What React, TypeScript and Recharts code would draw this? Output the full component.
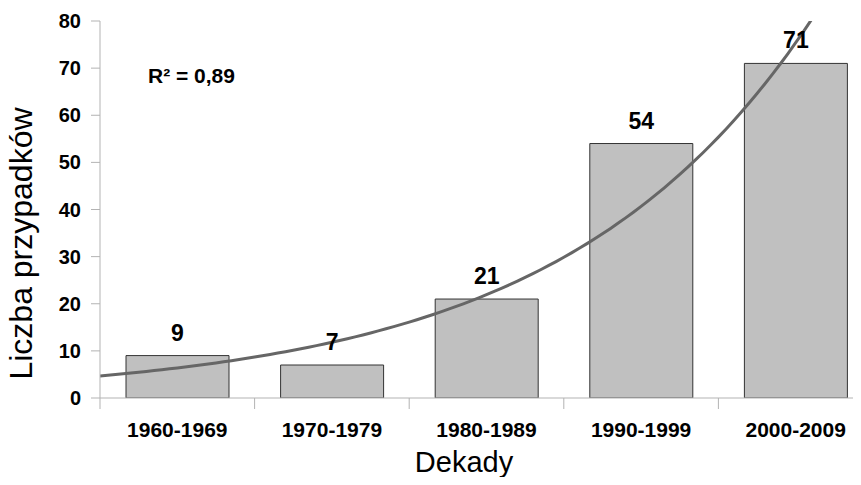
import { ComposedChart, Bar, Line, XAxis, YAxis, LabelList, Label } from "recharts"

const decades = ["1960-1969", "1970-1979", "1980-1989", "1990-1999", "2000-2009"]
const cases = [9, 7, 21, 54, 71]
const yTicks = [0, 10, 20, 30, 40, 50, 60, 70, 80]

const FONT = "'Liberation Sans', Arial, sans-serif"
const AXIS = "#b3b3b3"

const data = decades.map((decade, i) => ({ decade, cases: cases[i] }))

// exponential trend y = a * e^(b*x), least squares on ln(y), x = 1..n
function expFit(values: number[]) {
  const n = values.length
  const xs = values.map((_, i) => i + 1)
  const ls = values.map((v) => Math.log(v))
  const mx = xs.reduce((s, v) => s + v, 0) / n
  const ml = ls.reduce((s, v) => s + v, 0) / n
  let sxy = 0
  let sxx = 0
  xs.forEach((x, i) => {
    sxy += (x - mx) * (ls[i] - ml)
    sxx += (x - mx) * (x - mx)
  })
  const b = sxy / sxx
  const lnA = ml - b * mx
  let ssRes = 0
  let ssTot = 0
  xs.forEach((x, i) => {
    ssRes += (ls[i] - (lnA + b * x)) ** 2
    ssTot += (ls[i] - ml) ** 2
  })
  return { a: Math.exp(lnA), b, r2: 1 - ssRes / ssTot }
}

const fit = expFit(cases)

// the curve runs across the whole category range (half a band past each end)
const trend = Array.from({ length: 101 }, (_, k) => {
  const x = 0.5 + k * 0.05
  return { x, y: fit.a * Math.exp(fit.b * x) }
})

const XTick = ({ x, y, payload }: any) => {
  const v = payload.value
  if (Number.isInteger(v)) {
    return (
      <text x={x} y={y + 39} textAnchor="middle" fontFamily={FONT} fontWeight="bold" fontSize={21} fill="#000">
        {decades[v - 1]}
      </text>
    )
  }
  return <line x1={x} x2={x} y1={y} y2={y + 11} stroke={AXIS} />
}

const YTitle = ({ viewBox }: any) => {
  const cx = viewBox.x + 32
  const cy = viewBox.y + viewBox.height / 2 + 34
  return (
    <text
      x={cx}
      y={cy}
      transform={`rotate(-90, ${cx}, ${cy})`}
      textAnchor="middle"
      fontFamily={FONT}
      fontSize={32}
      fill="#000"
    >
      Liczba przypadków
    </text>
  )
}

export default function App() {
  return (
    <div
      style={{
        position: "relative",
        margin: -8,
        width: 861,
        height: 485,
        overflow: "hidden",
        background: "#fff",
        fontFamily: FONT,
      }}
    >
      <ComposedChart width={930} height={485} data={data} margin={{ top: 21, right: 57, bottom: 0, left: 0 }}>
        <XAxis xAxisId="cat" dataKey="decade" hide height={0} />
        <XAxis
          xAxisId="num"
          type="number"
          dataKey="x"
          domain={[0.5, 5.5]}
          allowDataOverflow
          ticks={[0.5, 1, 1.5, 2, 2.5, 3, 3.5, 4, 4.5, 5, 5.5]}
          interval={0}
          height={87}
          tickLine={false}
          tickSize={0}
          tickMargin={0}
          tick={<XTick />}
          axisLine={{ stroke: AXIS }}
        />
        <YAxis
          width={100}
          domain={[0, 80]}
          ticks={yTicks}
          interval={0}
          allowDataOverflow
          tickSize={9}
          tickMargin={10}
          tickLine={{ stroke: AXIS }}
          axisLine={{ stroke: AXIS }}
          tick={{ fontFamily: FONT, fontWeight: "bold", fontSize: 20, fill: "#000" }}
        >
          <Label content={<YTitle />} />
        </YAxis>
        <Bar
          xAxisId="cat"
          dataKey="cases"
          barSize={103}
          fill="#c0c0c0"
          stroke="#333"
          strokeWidth={1}
          isAnimationActive={false}
        >
          <LabelList
            dataKey="cases"
            position="top"
            offset={15}
            fontFamily={FONT}
            fontWeight="bold"
            fontSize={23}
            fill="#000"
          />
        </Bar>
        <Line
          xAxisId="num"
          data={trend}
          dataKey="y"
          type="linear"
          stroke="#666"
          strokeWidth={3}
          dot={false}
          activeDot={false}
          isAnimationActive={false}
        />
      </ComposedChart>
      <div
        style={{
          position: "absolute",
          left: 148,
          top: 65,
          fontSize: 21,
          lineHeight: "21px",
          fontWeight: "bold",
          color: "#000",
          whiteSpace: "nowrap",
        }}
      >
        R² = {fit.r2.toFixed(2).replace(".", ",")}
      </div>
      <div
        style={{
          position: "absolute",
          left: 364,
          width: 200,
          top: 448,
          textAlign: "center",
          fontSize: 29,
          lineHeight: "29px",
          color: "#000",
          whiteSpace: "nowrap",
        }}
      >
        Dekady
      </div>
    </div>
  )
}
